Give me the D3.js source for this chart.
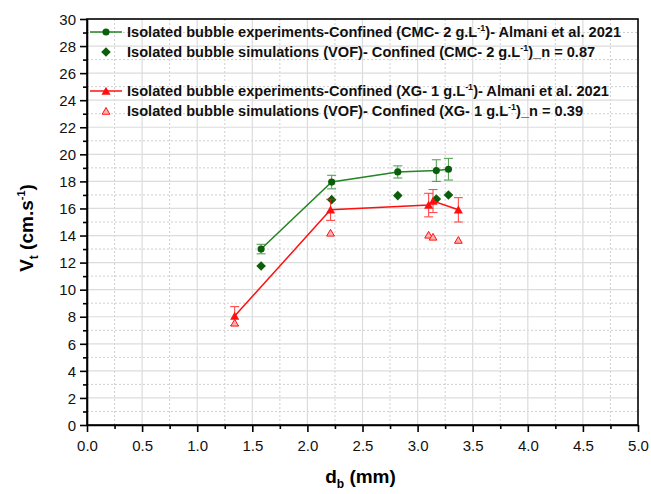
<!DOCTYPE html>
<html>
<head>
<meta charset="utf-8">
<script src="https://cdn.jsdelivr.net/npm/d3@7"></script>
<style>
  html, body { margin: 0; padding: 0; background: #fff; }
  svg { display: block; font-family: "Liberation Sans", Arial, sans-serif; }
</style>
</head>
<body>
<svg id="chart" width="651" height="494"></svg>
<script>
// Bubble diameter (mm)
const cmcDiam    = [1.58, 2.22, 2.82, 3.17, 3.28];
const xgDiam     = [1.34, 2.21, 3.10, 3.14, 3.37];
// Terminal velocity (cm/s) — experiments with error, and VOF simulations
const cmcExp     = [13.0, 17.95, 18.7, 18.8, 18.9];
const cmcExpErr  = [0.35, 0.5, 0.45, 0.8, 0.8];
const cmcSim     = [11.75, 16.65, 16.95, 16.7, 17.0];
const xgExp      = [8.05, 15.9, 16.25, 16.55, 15.9];
const xgExpErr   = [0.7, 0.78, 0.87, 0.85, 0.9];
const xgSim      = [7.55, 14.2, 14.05, 13.9, 13.67];

const xTicks = [0, 0.5, 1, 1.5, 2, 2.5, 3, 3.5, 4, 4.5, 5];
const yTicks = [0, 2, 4, 6, 8, 10, 12, 14, 16, 18, 20, 22, 24, 26, 28, 30];

const legendLabels = [
  ["Isolated bubble experiments-Confined (CMC- 2 g.L", "-1", ")- Almani et al. 2021"],
  ["Isolated bubble simulations (VOF)- Confined (CMC- 2 g.L", "-1", ")_n = 0.87"],
  ["Isolated bubble experiments-Confined (XG- 1 g.L", "-1", ")- Almani et al. 2021"],
  ["Isolated bubble simulations (VOF)- Confined (XG- 1 g.L", "-1", ")_n = 0.39"]
];

const GREEN = "#238523", GREEN_DK = "#0b5e0b", RED = "#ff1010";

const svg = d3.select("#chart");
const L = 87, R = 638, T = 19, B = 425;
const x = d3.scaleLinear().domain([0, 5]).range([L, R]);
const y = d3.scaleLinear().domain([0, 30]).range([B, T]);

// grid: minor dotted, major solid
const grid = svg.append("g");
const xMinor = d3.range(0.25, 5, 0.5), yMinor = d3.range(1, 30, 2);
grid.selectAll(".xm").data(xMinor).join("line")
  .attr("x1", d => x(d)).attr("x2", d => x(d)).attr("y1", T).attr("y2", B)
  .attr("stroke", "#cfcfcf").attr("stroke-dasharray", "2,2");
grid.selectAll(".ym").data(yMinor).join("line")
  .attr("y1", d => y(d)).attr("y2", d => y(d)).attr("x1", L).attr("x2", R)
  .attr("stroke", "#cfcfcf").attr("stroke-dasharray", "2,2");
grid.selectAll(".xM").data(xTicks.slice(1, -1)).join("line")
  .attr("x1", d => x(d)).attr("x2", d => x(d)).attr("y1", T).attr("y2", B)
  .attr("stroke", "#dcdcdc").attr("stroke-width", 1.2);
grid.selectAll(".yM").data(yTicks.slice(1, -1)).join("line")
  .attr("y1", d => y(d)).attr("y2", d => y(d)).attr("x1", L).attr("x2", R)
  .attr("stroke", "#dcdcdc").attr("stroke-width", 1.2);

// axes
const xAxis = svg.append("g").attr("transform", `translate(0,${B})`)
  .call(d3.axisBottom(x).tickValues(xTicks).tickFormat(d3.format(".1f")).tickSize(7).tickSizeOuter(0));
svg.append("g").attr("transform", `translate(0,${B})`)
  .call(d3.axisBottom(x).tickValues(xMinor).tickFormat("").tickSize(4).tickSizeOuter(0))
  .select(".domain").remove();
const yAxis = svg.append("g").attr("transform", `translate(${L},0)`)
  .call(d3.axisLeft(y).tickValues(yTicks).tickSize(7).tickSizeOuter(0));
svg.append("g").attr("transform", `translate(${L},0)`)
  .call(d3.axisLeft(y).tickValues(yMinor).tickFormat("").tickSize(4).tickSizeOuter(0))
  .select(".domain").remove();
svg.selectAll(".tick line").attr("stroke", "#000").attr("stroke-width", 1.6);
svg.selectAll(".domain").attr("stroke", "#000").attr("stroke-width", 1.6);
xAxis.selectAll("text").attr("font-size", 15).attr("fill", "#111").attr("y", 12).attr("dy", "0.9em");
yAxis.selectAll("text").attr("font-size", 15).attr("fill", "#111").attr("x", -11).attr("dy", "0.35em");

// frame
svg.append("rect").attr("x", L).attr("y", T).attr("width", R - L).attr("height", B - T)
  .attr("fill", "none").attr("stroke", "#000").attr("stroke-width", 1.6);

// axis titles
const xt = svg.append("text").attr("x", (L + R) / 2 - 2).attr("y", 483)
  .attr("text-anchor", "middle").attr("font-size", 19).attr("font-weight", "bold");
xt.append("tspan").text("d");
xt.append("tspan").attr("font-size", 12).attr("dy", 5).text("b");
xt.append("tspan").attr("dy", -5).text(" (mm)");

const yt = svg.append("text").attr("transform", `translate(33,${(T + B) / 2 + 6}) rotate(-90)`)
  .attr("text-anchor", "middle").attr("font-size", 19).attr("font-weight", "bold");
yt.append("tspan").text("V");
yt.append("tspan").attr("font-size", 12).attr("dy", 5).text("t");
yt.append("tspan").attr("dy", -5).text(" (cm.s");
yt.append("tspan").attr("font-size", 11).attr("dy", -8).text("-1");
yt.append("tspan").attr("dy", 8).text(")");

// marker shapes
const circle = d3.symbol().type(d3.symbolCircle).size(40);
const square = d3.symbol().type(d3.symbolSquare).size(46);
const tri = d3.symbol().type(d3.symbolTriangle).size(36);
const triSmall = d3.symbol().type(d3.symbolTriangle).size(26);

function errorBars(xs, ys, es, color) {
  const g = svg.append("g").attr("stroke", color).attr("stroke-width", 1.1).attr("opacity", 0.75);
  xs.forEach((xv, i) => {
    const cx = x(xv), y1 = y(ys[i] + es[i]), y2 = y(ys[i] - es[i]);
    g.append("line").attr("x1", cx).attr("x2", cx).attr("y1", y1).attr("y2", y2);
    g.append("line").attr("x1", cx - 4.5).attr("x2", cx + 4.5).attr("y1", y1).attr("y2", y1);
    g.append("line").attr("x1", cx - 4.5).attr("x2", cx + 4.5).attr("y1", y2).attr("y2", y2);
  });
}

const line = d3.line().x(d => x(d[0])).y(d => y(d[1]));

// CMC series
errorBars(cmcDiam, cmcExp, cmcExpErr, GREEN);
svg.append("path").attr("d", line(d3.zip(cmcDiam, cmcExp)))
  .attr("fill", "none").attr("stroke", GREEN).attr("stroke-width", 1.5);
svg.append("g").selectAll("path").data(d3.zip(cmcDiam, cmcExp)).join("path")
  .attr("transform", d => `translate(${x(d[0])},${y(d[1])})`).attr("d", circle).attr("fill", GREEN_DK);
svg.append("g").selectAll("path").data(d3.zip(cmcDiam, cmcSim)).join("path")
  .attr("transform", d => `translate(${x(d[0])},${y(d[1])}) rotate(45)`).attr("d", square).attr("fill", GREEN_DK);

// XG series
errorBars(xgDiam, xgExp, xgExpErr, RED);
svg.append("path").attr("d", line(d3.zip(xgDiam, xgExp)))
  .attr("fill", "none").attr("stroke", RED).attr("stroke-width", 1.5);
svg.append("g").selectAll("path").data(d3.zip(xgDiam, xgExp)).join("path")
  .attr("transform", d => `translate(${x(d[0])},${y(d[1]) + 1})`).attr("d", tri).attr("fill", RED);
svg.append("g").selectAll("path").data(d3.zip(xgDiam, xgSim)).join("path")
  .attr("transform", d => `translate(${x(d[0])},${y(d[1]) + 1})`).attr("d", triSmall)
  .attr("fill", "#ffb3b3").attr("stroke", RED).attr("stroke-width", 1);

// legend
const legRows = [32, 52, 91, 111];
const leg = svg.append("g");
const legSym = [
  { line: GREEN, sym: circle, fill: GREEN_DK, rot: 0 },
  { line: null, sym: square, fill: GREEN_DK, rot: 45 },
  { line: RED, sym: tri, fill: RED, rot: 0 },
  { line: null, sym: triSmall, fill: "#ffb3b3", stroke: RED, rot: 0 }
];
legendLabels.forEach((parts, i) => {
  const yy = legRows[i], s = legSym[i];
  if (s.line) leg.append("line").attr("x1", 90).attr("x2", 122).attr("y1", yy).attr("y2", yy)
    .attr("stroke", s.line).attr("stroke-width", 1.5);
  leg.append("path").attr("transform", `translate(106,${yy + (i >= 2 ? 1 : 0)}) rotate(${s.rot})`).attr("d", s.sym)
    .attr("fill", s.fill).attr("stroke", s.stroke || "none");
  const t = leg.append("text").attr("x", 127).attr("y", yy + 5)
    .attr("font-size", 14.6).attr("font-weight", "bold").attr("fill", "#111");
  t.append("tspan").text(parts[0]);
  t.append("tspan").attr("font-size", 9).attr("dy", -6).text(parts[1]);
  t.append("tspan").attr("dy", 6).text(parts[2]);
});
</script>
</body>
</html>
